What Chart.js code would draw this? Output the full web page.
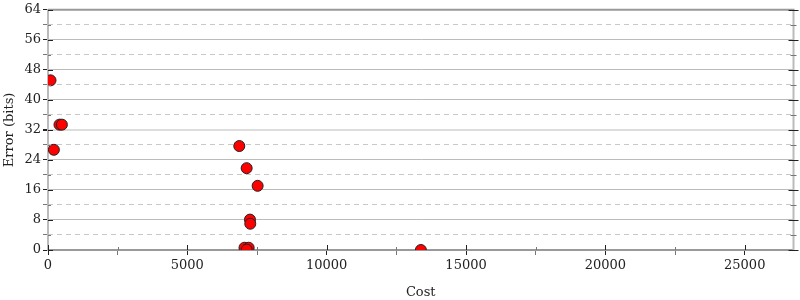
<!DOCTYPE html>
<html lang="en">
<head>
    <meta charset="UTF-8">
    <title>Error vs Cost</title>
    <script src="https://cdn.jsdelivr.net/npm/chart.js@4.4.1/dist/chart.umd.min.js"></script>
    <style>
        html, body { margin: 0; padding: 0; background: #fff; }
        #wrap { width: 800px; height: 300px; }
    </style>
</head>
<body>
    <div id="wrap"><canvas id="chart"></canvas></div>
    <script>
        // data
        const costs  = [90, 412, 498, 211, 6864, 7128, 7522, 7247, 7258, 7050, 7200, 7130, 13380];
        const errors = [45.2, 33.4, 33.4, 26.7, 27.7, 21.8, 17.1, 8.1, 7.0, 0.6, 0.6, 0.1, 0];

        // axes: labelled ticks and unlabelled in-between ticks
        const xTicks = [0, 5000, 10000, 15000, 20000, 25000];
        const xMinorTicks = [2500, 7500, 12500, 17500, 22500];
        const yTicks = [0, 8, 16, 24, 32, 40, 48, 56, 64];
        const yMinorTicks = [4, 12, 20, 28, 36, 44, 52, 60];

        const xMax = 26750;
        const yMax = 64;
        const xLabel = 'Cost';
        const yLabel = 'Error (bits)';

        const FONT = { family: 'DejaVu Serif', size: 13 };

        const isMajorX = v => xTicks.includes(v);
        const isMajorY = v => yTicks.includes(v);
        const toTicks = arr => arr.slice().sort((a, b) => a - b).map(v => ({ value: v }));

        // frame, inward tick halves and mirrored ticks on the right
        const framePlugin = {
            id: 'frame',
            afterDraw(chart) {
                const { ctx, chartArea: a, scales } = chart;
                ctx.save();
                ctx.lineWidth = 2;
                ctx.strokeStyle = '#999';
                ctx.beginPath(); ctx.moveTo(a.left, a.top); ctx.lineTo(a.right + 1, a.top); ctx.stroke();
                ctx.strokeStyle = '#bbb';
                ctx.beginPath(); ctx.moveTo(a.right, a.top); ctx.lineTo(a.right, a.bottom); ctx.stroke();

                ctx.lineWidth = 1;
                scales.y.ticks.forEach(t => {
                    const py = Math.round(scales.y.getPixelForValue(t.value)) + 0.5;
                    const major = isMajorY(t.value);
                    const len = major ? 5 : 3;
                    ctx.strokeStyle = major ? '#222' : '#777';
                    ctx.beginPath();
                    ctx.moveTo(a.left, py); ctx.lineTo(a.left + len, py);
                    ctx.moveTo(a.right - len, py); ctx.lineTo(a.right + len, py);
                    ctx.stroke();
                });
                scales.x.ticks.forEach(t => {
                    const px = Math.round(scales.x.getPixelForValue(t.value)) + 0.5;
                    const major = isMajorX(t.value);
                    const len = major ? 5 : 3;
                    ctx.strokeStyle = major ? '#222' : '#777';
                    ctx.beginPath();
                    ctx.moveTo(px, a.bottom); ctx.lineTo(px, a.bottom - len);
                    ctx.stroke();
                });
                ctx.restore();
            }
        };

        new Chart(document.getElementById('chart'), {
            type: 'scatter',
            data: {
                datasets: [{
                    data: costs.map((c, i) => ({ x: c, y: errors[i] })),
                    backgroundColor: '#ff0000',
                    borderColor: '#222',
                    borderWidth: 1,
                    pointRadius: 5.5,
                    pointHoverRadius: 5.5
                }]
            },
            options: {
                responsive: true,
                maintainAspectRatio: false,
                animation: false,
                layout: { padding: { top: 8, right: 6, left: 0, bottom: 0 } },
                plugins: {
                    legend: { display: false },
                    tooltip: { enabled: false }
                },
                scales: {
                    x: {
                        type: 'linear',
                        min: 0,
                        max: xMax,
                        afterBuildTicks: s => { s.ticks = toTicks(xTicks.concat(xMinorTicks)); },
                        afterFit: s => { s.height = 50; },
                        ticks: {
                            autoSkip: false,
                            maxRotation: 0,
                            padding: 3,
                            color: '#222',
                            font: FONT,
                            callback: v => (isMajorX(v) ? String(v) : '')
                        },
                        grid: {
                            drawOnChartArea: false,
                            tickLength: 5,
                            tickColor: c => (c.tick && isMajorX(c.tick.value) ? '#222' : '#777')
                        },
                        border: { color: '#999', width: 2 },
                        title: {
                            display: true,
                            text: xLabel,
                            color: '#222',
                            font: FONT,
                            padding: { top: 0, bottom: 0 }
                        }
                    },
                    y: {
                        type: 'linear',
                        min: 0,
                        max: yMax,
                        afterBuildTicks: s => { s.ticks = toTicks(yTicks.concat(yMinorTicks)); },
                        afterFit: s => { s.width = 48; },
                        ticks: {
                            autoSkip: false,
                            padding: 2,
                            color: '#222',
                            font: FONT,
                            callback: v => (isMajorY(v) ? String(v) : '')
                        },
                        grid: {
                            tickLength: 5,
                            color: c => {
                                const v = c.tick ? c.tick.value : 0;
                                if (!isMajorY(v)) return 'rgba(0,0,0,0)';
                                return v === 32 ? '#ddd' : '#bbb';
                            },
                            lineWidth: c => (c.tick && c.tick.value === 32 ? 2 : 1),
                            tickColor: c => (c.tick && isMajorY(c.tick.value) ? '#222' : '#777')
                        },
                        border: { color: '#bbb', width: 2 },
                        title: {
                            display: true,
                            text: yLabel,
                            color: '#222',
                            font: FONT,
                            padding: { top: 2, bottom: 0 }
                        }
                    },
                    yMinor: {
                        type: 'linear',
                        position: 'left',
                        min: 0,
                        max: yMax,
                        afterBuildTicks: s => { s.ticks = toTicks(yMinorTicks); },
                        afterFit: s => { s.width = 0; },
                        ticks: { display: false },
                        grid: {
                            drawTicks: false,
                            color: '#c8c8c8'
                        },
                        border: { display: false, dash: [5, 4] }
                    }
                }
            },
            plugins: [framePlugin]
        });
    </script>
</body>
</html>
